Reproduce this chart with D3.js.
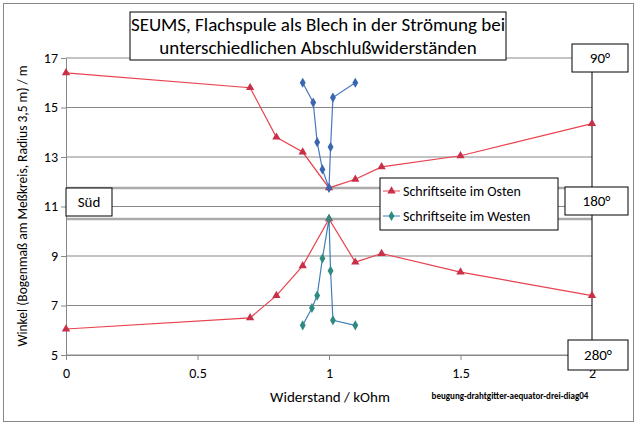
<!DOCTYPE html>
<html><head><meta charset="utf-8">
<script src="https://cdn.jsdelivr.net/npm/d3@7"></script>
<style>body{margin:0;background:#fff;font-family:Calibri,Carlito,"Open Sans",sans-serif}</style>
</head><body><svg id="c" width="639" height="426"></svg>
<script>
const xTicks = [0, 0.5, 1, 1.5, 2];
const yTicks = [5, 7, 9, 11, 13, 15, 17];
const eastUpper = [[0,16.4],[0.7,15.8],[0.8,13.8],[0.9,13.2],[1,11.75],[1.1,12.1],[1.2,12.6],[1.5,13.05],[2,14.35]];
const eastLower = [[0,6.05],[0.7,6.5],[0.8,7.4],[0.9,8.6],[1,10.5],[1.1,8.75],[1.2,9.1],[1.5,8.35],[2,7.4]];
const westUpper = [[0.9,16.0],[0.94,15.2],[0.955,13.6],[0.975,12.5],[1,11.75],[1.006,13.4],[1.015,15.4],[1.1,16.0]];
const westLower = [[0.9,6.2],[0.935,6.9],[0.955,7.4],[0.975,8.9],[1,10.5],[1.006,8.4],[1.015,6.4],[1.1,6.2]];
const refLines = [11.75, 10.5];

const svg = d3.select('#c');
svg.append('rect').attr('x', 3.5).attr('y', 3.5).attr('width', 630).attr('height', 418)
  .attr('fill', '#fff').attr('stroke', '#888');

const x = d3.scaleLinear().domain([0, 2]).range([66, 592]);
const y = d3.scaleLinear().domain([5, 17]).range([355, 58]);

// grid
svg.append('g').selectAll('line').data(yTicks).join('line')
  .attr('x1', 66).attr('x2', 592).attr('y1', d => y(d)).attr('y2', d => y(d))
  .attr('stroke', '#888').attr('stroke-width', 1);
svg.append('g').selectAll('line').data(refLines).join('line')
  .attr('x1', 66).attr('x2', 592).attr('y1', d => y(d)).attr('y2', d => y(d))
  .attr('stroke', '#aaa').attr('stroke-width', 2.5);

const ya = svg.append('g').attr('transform', 'translate(66,0)')
  .call(d3.axisLeft(y).tickValues(yTicks).tickSize(5).tickSizeOuter(0));
const xa = svg.append('g').attr('transform', 'translate(0,355)')
  .call(d3.axisBottom(x).tickValues(xTicks).tickSize(5).tickSizeOuter(0).tickFormat(d3.format('')));
[ya, xa].forEach(a => {
  a.selectAll('path,line').attr('stroke', '#888');
  a.selectAll('text').attr('font-size', 14).attr('fill', '#000').attr('font-family', 'Carlito,"Open Sans",sans-serif');
});
xa.selectAll('text').attr('dy', '1.1em');
svg.append('line').attr('x1', 592).attr('x2', 592).attr('y1', 58).attr('y2', 355).attr('stroke', '#000');

const line = d3.line(d => x(d[0]), d => y(d[1]));
const tri = d3.symbol(d3.symbolTriangle, 30);
const dia = d3.symbol(d3.symbolDiamond, 30);
function series(data, stroke, fill, sym) {
  svg.append('path').attr('d', line(data)).attr('fill', 'none').attr('stroke', stroke).attr('stroke-width', 1.2);
  svg.append('g').selectAll('path').data(data).join('path')
    .attr('transform', d => `translate(${x(d[0])},${y(d[1])})`).attr('d', sym).attr('fill', fill);
}
series(eastUpper, '#e8424f', '#c8304a', tri);
series(eastLower, '#e8424f', '#c8304a', tri);
series(westUpper, '#4a78c0', '#3a66b0', dia);
series(westLower, '#3f7fb8', '#2f8a82', dia);

function box(x0, y0, w, h, lines, fs) {
  svg.append('rect').attr('x', x0).attr('y', y0).attr('width', w).attr('height', h)
    .attr('fill', '#fff').attr('stroke', '#000');
  lines.forEach((t, i) => svg.append('text').attr('x', x0 + w / 2)
    .attr('y', y0 + h / 2 + (i - (lines.length - 1) / 2) * fs * 1.2 + fs * 0.35)
    .attr('text-anchor', 'middle').attr('font-size', fs).text(t));
}
box(130, 12, 376, 48, ['SEUMS, Flachspule als Blech in der Strömung bei', 'unterschiedlichen Abschlußwiderständen'], 19);
box(572, 44, 56, 28, ['90°'], 15);
box(565, 187, 63, 28, ['180°'], 15);
box(568, 340, 60, 30, ['280°'], 15);
box(66, 188, 46, 28, ['Süd'], 15);

// legend
svg.append('rect').attr('x', 380).attr('y', 178).attr('width', 178).attr('height', 52)
  .attr('fill', '#fff').attr('stroke', '#000');
[['Schriftseite im Osten', '#e8424f', '#c8304a', tri], ['Schriftseite im Westen', '#3f7fb8', '#2f8a82', dia]]
  .forEach((l, i) => {
    const yy = 191 + i * 25;
    svg.append('line').attr('x1', 383).attr('x2', 400).attr('y1', yy).attr('y2', yy).attr('stroke', l[1]);
    svg.append('path').attr('transform', `translate(391.5,${yy})`).attr('d', l[3]).attr('fill', l[2]);
    svg.append('text').attr('x', 403).attr('y', yy + 5).attr('font-size', 14).text(l[0]);
  });

svg.append('text').attr('transform', 'translate(27,206) rotate(-90)').attr('text-anchor', 'middle')
  .attr('font-size', 13.5).text('Winkel (Bogenmaß am Meßkreis, Radius 3,5 m) / m');
svg.append('text').attr('x', 330).attr('y', 402).attr('text-anchor', 'middle').attr('font-size', 15)
  .text('Widerstand / kOhm');
svg.append('text').attr('x', 510).attr('y', 399).attr('text-anchor', 'middle').attr('font-size', 9)
  .attr('font-weight', 'bold').text('beugung-drahtgitter-aequator-drei-diag04');
</script></body></html>
